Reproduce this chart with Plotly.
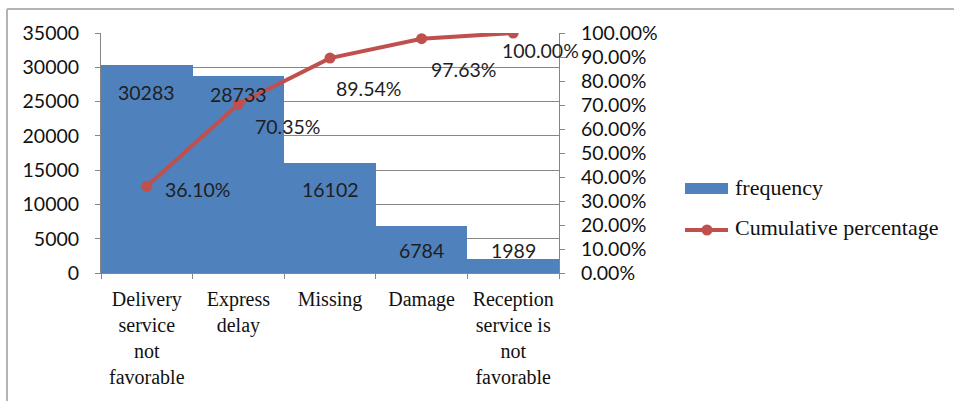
import plotly.graph_objects as go

# Complaint categories (multi-line tick text) and their counts
categories = [
    "Delivery<br>service<br>not<br>favorable",
    "Express<br>delay",
    "Missing",
    "Damage",
    "Reception<br>service is<br>not<br>favorable",
]
frequency = [30283, 28733, 16102, 6784, 1989]
cumulative = [0.3610, 0.7035, 0.8954, 0.9763, 1.0000]

left_ticks = [0, 5000, 10000, 15000, 20000, 25000, 30000, 35000]
right_ticks = [i / 10 for i in range(11)]

# label placement (pixel shifts from each mark)
bar_label_shift = [-27, -19, -27, -24, 9]
line_label_dx = [51, 49, 38, 42, 27]
line_label_dy = [-3, -22, -30, -31, -17]

BLUE = "#4F81BD"
RED = "#C0504D"
AXIS = "#868686"
NUM_FONT = "Lato"
SERIF = "Liberation Serif, Times New Roman, serif"

W, H = 954, 401
L, R, T, B = 101, 395, 33, 128
PW, PH = W - L - R, H - T - B


def px_x(px):
    return (px - L) / PW


def px_y(py):
    return (H - B - py) / PH


fig = go.Figure()

fig.add_trace(go.Bar(
    x=categories, y=frequency, name="frequency",
    marker=dict(color=BLUE, line=dict(width=0)),
    showlegend=False, yaxis="y",
))
fig.add_trace(go.Scatter(
    x=categories, y=cumulative, name="Cumulative percentage",
    mode="lines+markers",
    line=dict(color=RED, width=4),
    marker=dict(color=RED, size=11),
    showlegend=False, yaxis="y2",
))

annotations = []
for c, v, s in zip(categories, frequency, bar_label_shift):
    annotations.append(dict(
        x=c, y=v, xref="x", yref="y", text=str(v), showarrow=False,
        yshift=s, font=dict(family=NUM_FONT, size=19.5, color="#1e1e1e"),
    ))
for c, v, dx, dy in zip(categories, cumulative, line_label_dx, line_label_dy):
    annotations.append(dict(
        x=c, y=v, xref="x", yref="y2", text=f"{v:.2%}", showarrow=False,
        xshift=dx, yshift=dy, font=dict(family=NUM_FONT, size=19.5, color="#1e1e1e"),
    ))

# legend entries
annotations.append(dict(
    x=px_x(733), y=px_y(187), xref="paper", yref="paper", text="frequency",
    showarrow=False, xanchor="left", yanchor="middle",
    font=dict(family=SERIF, size=22, color="#111111"),
))
annotations.append(dict(
    x=px_x(733), y=px_y(227), xref="paper", yref="paper", text="Cumulative percentage",
    showarrow=False, xanchor="left", yanchor="middle",
    font=dict(family=SERIF, size=22, color="#111111"),
))

shapes = [
    # outer frame (top and left edges)
    dict(type="line", xref="paper", yref="paper",
         x0=px_x(7), x1=px_x(956), y0=px_y(9), y1=px_y(9),
         line=dict(color="#b4b4b4", width=2)),
    dict(type="line", xref="paper", yref="paper",
         x0=px_x(7), x1=px_x(7), y0=px_y(9), y1=px_y(403),
         line=dict(color="#b4b4b4", width=2)),
    # legend swatches
    dict(type="rect", xref="paper", yref="paper",
         x0=px_x(685), x1=px_x(728), y0=px_y(194), y1=px_y(183),
         fillcolor=BLUE, line=dict(width=0)),
    dict(type="line", xref="paper", yref="paper",
         x0=px_x(685), x1=px_x(728), y0=px_y(230), y1=px_y(230),
         line=dict(color=RED, width=4)),
    dict(type="circle", xref="paper", yref="paper",
         x0=px_x(701.5), x1=px_x(712.5), y0=px_y(235.5), y1=px_y(224.5),
         fillcolor=RED, line=dict(width=0)),
]

fig.update_layout(
    width=W, height=H,
    margin=dict(l=L, r=R, t=T, b=B, pad=0, autoexpand=False),
    paper_bgcolor="white", plot_bgcolor="white",
    bargap=0,
    showlegend=False,
    annotations=annotations,
    shapes=shapes,
    xaxis=dict(
        type="category", tickson="boundaries", tickangle=0, automargin=False,
        range=[-0.5, len(categories) - 0.5],
        showline=True, linecolor=AXIS, linewidth=1,
        ticks="outside", ticklen=5, tickcolor=AXIS,
        showgrid=False, ticklabelstandoff=8,
        tickfont=dict(family=SERIF, size=20, color="#111111"),
    ),
    yaxis=dict(
        range=[0, 35000], tickvals=left_ticks, automargin=False,
        ticktext=[str(t) for t in left_ticks],
        showline=True, linecolor=AXIS, linewidth=1,
        ticks="outside", ticklen=5, tickcolor=AXIS,
        showgrid=True, gridcolor=AXIS, gridwidth=1, zeroline=False,
        ticklabelstandoff=12,
        tickfont=dict(family=NUM_FONT, size=19.5, color="#111111"),
    ),
    yaxis2=dict(
        range=[0, 1], tickvals=right_ticks, automargin=False,
        ticktext=[f"{t:.2%}" for t in right_ticks],
        overlaying="y", side="right",
        showline=True, linecolor=AXIS, linewidth=1,
        ticks="outside", ticklen=5, tickcolor=AXIS,
        showgrid=False, zeroline=False,
        ticklabelstandoff=12,
        tickfont=dict(family=NUM_FONT, size=19.5, color="#111111"),
    ),
)

fig.write_html("out.html")
